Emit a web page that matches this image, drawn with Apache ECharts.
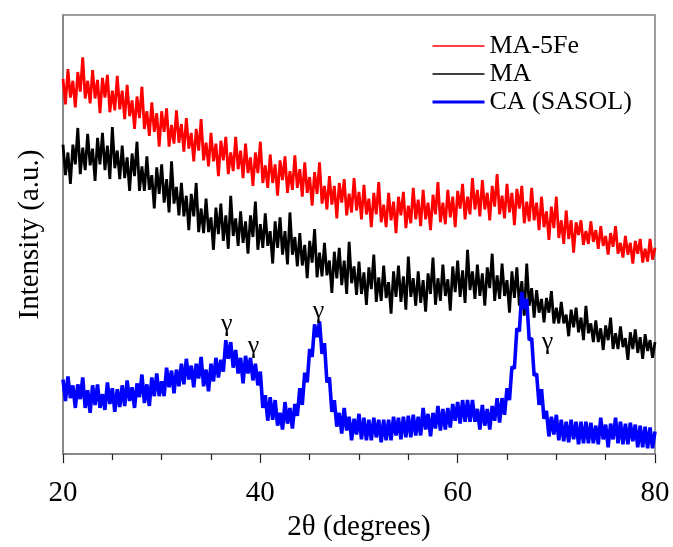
<!DOCTYPE html>
<html><head><meta charset="utf-8">
<script src="https://cdn.jsdelivr.net/npm/echarts@6/dist/echarts.min.js"></script>
<style>html,body{margin:0;padding:0;background:#fff}#c{width:673px;height:547px}</style>
</head><body><div id="c"></div>
<script>
// 2θ sampling (degrees): first angle and step between readings
const startAngle = 20;
const stepAngle = 0.25;
const xLabels = [20, 40, 60, 80];
const seriesNames = ['MA-5Fe', 'MA', 'CA (SASOL)'];

// Intensity (a.u.), one value per 0.25°
const ma5fe = [
382,356,392,363, 380,353,389,369, 404,362,380,357, 391,362,381,347, 383,363,386,348,
370,350,385,351, 370,341,376,344, 360,331,364,342, 374,331,349,324, 358,328,347,313,
349,328,352,313, 335,316,350,317, 336,308,342,311, 327,298,331,309, 341,299,317,293,
327,298,316,283, 319,299,323,285, 307,288,323,290, 309,281,316,286, 302,273,307,286,
318,276,294,271, 305,276,295,263, 299,279,303,266, 288,269,304,271, 290,262,297,266,
282,253,287,265, 297,255,273,249, 283,254,273,240, 276,256,280,243, 265,246,281,248,
267,239,274,244, 260,231,266,244, 277,236,254,231, 266,238,257,225, 262,243,267,230,
253,235,271,239, 259,232,269,239, 256,228,264,244, 277,236,256,234, 269,241,262,231,
268,250,275,239, 262,244,281,249, 269,242,279,249, 266,238,273,252, 285,244,263,240,
275,246,266,233, 270,250,273,235, 257,237,271,238, 256,228,262,231, 247,218,252,230,
262,220,238,214, 248,219,238,205, 236,223,238,213, 227,214,237,216, 228,209,232,212,
222,203,225,211, 232,204,215,200, 222,203,215,194, 217,204,219,195, 209,196,219,198,
210];
const ma = [
315,284,307,275, 315,295,332,285, 312,289,326,294, 311,278,322,295, 327,289,314,280,
333,291,309,280, 314,281,302,268, 306,283,318,268, 293,268,303,269, 284,250,292,265,
295,256,280,246, 298,255,272,243, 276,242,263,228, 265,242,276,226, 250,225,260,226,
241,208,251,224, 255,217,243,209, 263,222,240,212, 247,215,237,204, 243,221,257,208,
234,210,245,212, 227,194,237,210, 241,203,227,193, 246,203,221,191, 225,192,213,179,
217,195,229,180, 205,181,215,182, 197,164,206,179, 210,172,197,163, 216,174,191,162,
196,163,185,152, 190,168,203,155, 180,156,192,159, 175,143,186,160, 192,155,181,147,
201,160,179,151, 186,154,177,145, 184,163,200,152, 179,156,193,161, 178,146,191,165,
197,160,187,154, 208,167,186,158, 193,161,184,151, 190,169,204,156, 182,158,194,161,
177,144,186,159, 190,151,176,141, 194,151,169,139, 167,144,158,134, 159,144,166,133,
149,133,155,133, 142,120,147,129, 149,124,139,116, 151,123,133,114, 136,114,128,106,
131,116,139,107, 123,107,130,109, 118,96,124,107, 127,103,119,97, 122,105,116,98,
114];
const caSasol = [
76,54,79,57, 70,47,71,56, 78,47,65,42, 70,50,71,47, 61,45,73,51,
67,43,66,48, 70,49,75,54, 68,47,72,58, 81,52,71,49, 78,59,82,59,
74,59,88,68, 85,62,86,69, 92,71,97,76, 90,68,92,77, 99,69,86,64,
92,74,98,78, 96,84,116,97, 114,88,106,82, 98,72,100,82, 98,75,92,70,
84,47,60,34, 58,35,55,29, 42,25,53,31, 47,26,51,39, 67,50,83,73,
107,99,132,119, 135,102,113,73, 78,43,55,28, 42,21,47,24, 38,14,36,20,
41,15,37,14, 35,14,37,17, 35,12,35,14, 35,14,38,19, 37,15,38,17,
39,17,40,19, 38,19,47,25, 41,18,42,26, 49,24,46,25, 47,27,51,34,
53,31,55,33, 55,33,55,33, 46,25,50,29, 46,25,49,34, 57,32,57,40,
67,55,89,87, 128,125,165,148, 158,116,118,80, 82,50,66,36, 44,18,38,20,
40,14,35,13, 33,12,35,15, 33,10,33,11, 33,11,32,11, 29,10,37,15,
30,7,31,15, 37,11,33,10, 31,10,32,13, 30,7,29,7, 28,6,27,6,
23];
// γ-alumina reflection labels: [2θ, intensity]
const gammaPeaks = [[36.6, 132], [39.3, 110], [45.9, 146], [69.1, 114]];

function toPairs(arr) { return arr.map((v, i) => [startAngle + i * stepAngle, v]); }
const serif = '"Liberation Serif", "DejaVu Serif", serif';
const colors = ['#ff0000', '#000000', '#0000ff'];
const widths = [2.8, 2.8, 3.6];
const datasets = [ma5fe, ma, caSasol];

const chart = echarts.init(document.getElementById('c'), null, { renderer: 'canvas' });
chart.setOption({
  animation: false,
  backgroundColor: '#fff',
  grid: { left: 63, right: 18, top: 15, bottom: 85, show: true, borderColor: '#808080', borderWidth: 1.5, backgroundColor: 'transparent' },
  legend: {
    orient: 'vertical', left: 426, top: 28, itemWidth: 52, itemHeight: 14, itemGap: 2,
    itemStyle: { opacity: 0 },
    textStyle: { fontFamily: serif, fontSize: 26, color: '#000' },
    data: seriesNames.map((n, k) => ({ name: n, lineStyle: { width: k === 2 ? 3 : 1.4 } }))
  },
  xAxis: {
    type: 'value', min: 20, max: 80, interval: 20,
    name: '2θ (degrees)', nameLocation: 'middle', nameGap: 46,
    nameTextStyle: { fontFamily: serif, fontSize: 29, color: '#000' },
    axisLine: { show: true, lineStyle: { color: '#808080', width: 1.5 } },
    axisTick: { show: true, inside: false, length: 9, lineStyle: { color: '#222', width: 1.2 } },
    minorTick: { show: true, splitNumber: 4, length: 6, lineStyle: { color: '#222', width: 1.2 } },
    axisLabel: { margin: 25, fontFamily: serif, fontSize: 29, color: '#000',
      formatter: v => xLabels.includes(v) ? String(v) : '' },
    splitLine: { show: false }
  },
  yAxis: {
    type: 'value', min: 0, max: 447,
    name: 'Intensity (a.u.)', nameLocation: 'middle', nameGap: 18,
    nameTextStyle: { fontFamily: serif, fontSize: 29, color: '#000' },
    axisLine: { show: true, lineStyle: { color: '#808080', width: 1.5 } },
    axisTick: { show: false }, axisLabel: { show: false }, splitLine: { show: false }
  },
  series: datasets.map((d, k) => ({
    name: seriesNames[k], type: 'line', data: toPairs(d),
    symbol: 'none', showSymbol: false, smooth: false,
    lineStyle: { color: colors[k], width: widths[k], join: 'miter', miterLimit: 2 },
    itemStyle: { color: colors[k] },
    z: 2 + k,
    markPoint: k === 2 ? {
      symbol: 'circle', symbolSize: 1, itemStyle: { color: 'transparent' },
      label: { show: true, formatter: 'γ', fontFamily: serif, fontSize: 26, color: '#000', position: 'inside' },
      data: gammaPeaks.map(p => ({ coord: p }))
    } : undefined
  }))
});
</script>
</body></html>
